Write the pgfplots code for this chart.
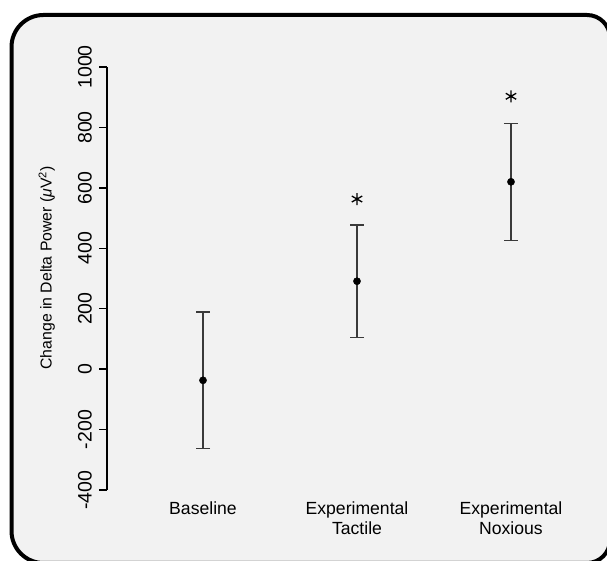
\documentclass[border=0pt]{standalone}
\usepackage{pgfplots}
\pgfplotsset{compat=1.18}
\usepackage{fontspec}
\setmainfont{Liberation Sans}
\definecolor{bgc}{HTML}{F2F2F2}
\definecolor{barc}{HTML}{3A3A3A}
\begin{document}
\begin{tikzpicture}
\useasboundingbox (0,0) rectangle (607pt,561pt);
\begin{scope}
\clip (0,0) rectangle (607pt,561pt);
\draw[line width=4pt, fill=bgc] (11.5pt,250pt) [rounded corners=32pt] -- (11.5pt,546pt) -- (300pt,546pt)
  [rounded corners=23pt] -- (610pt,546pt) -- (610pt,-2pt) -- (300pt,-2pt)
  [rounded corners=32pt] -- (11.5pt,-2pt) -- cycle;
\end{scope}
\begin{axis}[
  at={(107pt,71pt)}, anchor=south west,
  scale only axis, width=493pt, height=423pt,
  xmin=0.3766, xmax=3.578, ymin=-400, ymax=1000,
  axis y line=left, axis x line=bottom,
  x axis line style={draw=none},
  y axis line style={-, line width=1.5pt},
  xtick={1,2,3},
  xticklabels={Baseline, Experimental\\Tactile, Experimental\\Noxious},
  xtick style={draw=none},
  xticklabel style={align=center, font=\fontsize{17.6}{20}\selectfont, anchor=north, inner sep=0pt, yshift=-4pt},
  ytick={-400,-200,...,1000},
  ytick style={line width=1.5pt, black},
  tick align=outside, major tick length=8pt,
  yticklabel style={rotate=90, anchor=south, inner sep=0pt, font=\fontsize{19.5}{20}\selectfont},
  yticklabel shift=7pt,
  /pgf/number format/assume math mode=true,
  /pgf/number format/1000 sep={},
  ylabel={Change in Delta Power (\textit{μ}V\textsuperscript{2})},
  ylabel style={at={(axis description cs:-0.122,0.525)}, anchor=center, font=\fontsize{15.8}{18}\selectfont},
  clip=false,
]
\addplot[only marks, mark=*, mark size=3.6pt, black,
  error bars/.cd, y dir=both, y explicit,
  error bar style={line width=1.2pt, barc},
  error mark options={line width=1.2pt, barc, mark size=7pt, rotate=90}]
  coordinates {(1,-37) +- (0,226) (2,291) +- (0,186) (3,620) +- (0,194)};
\addplot[only marks, mark=asterisk, mark size=6pt, line width=1.3pt, black]
  coordinates {(2,563) (3,903)};
\end{axis}
\end{tikzpicture}
\end{document}
